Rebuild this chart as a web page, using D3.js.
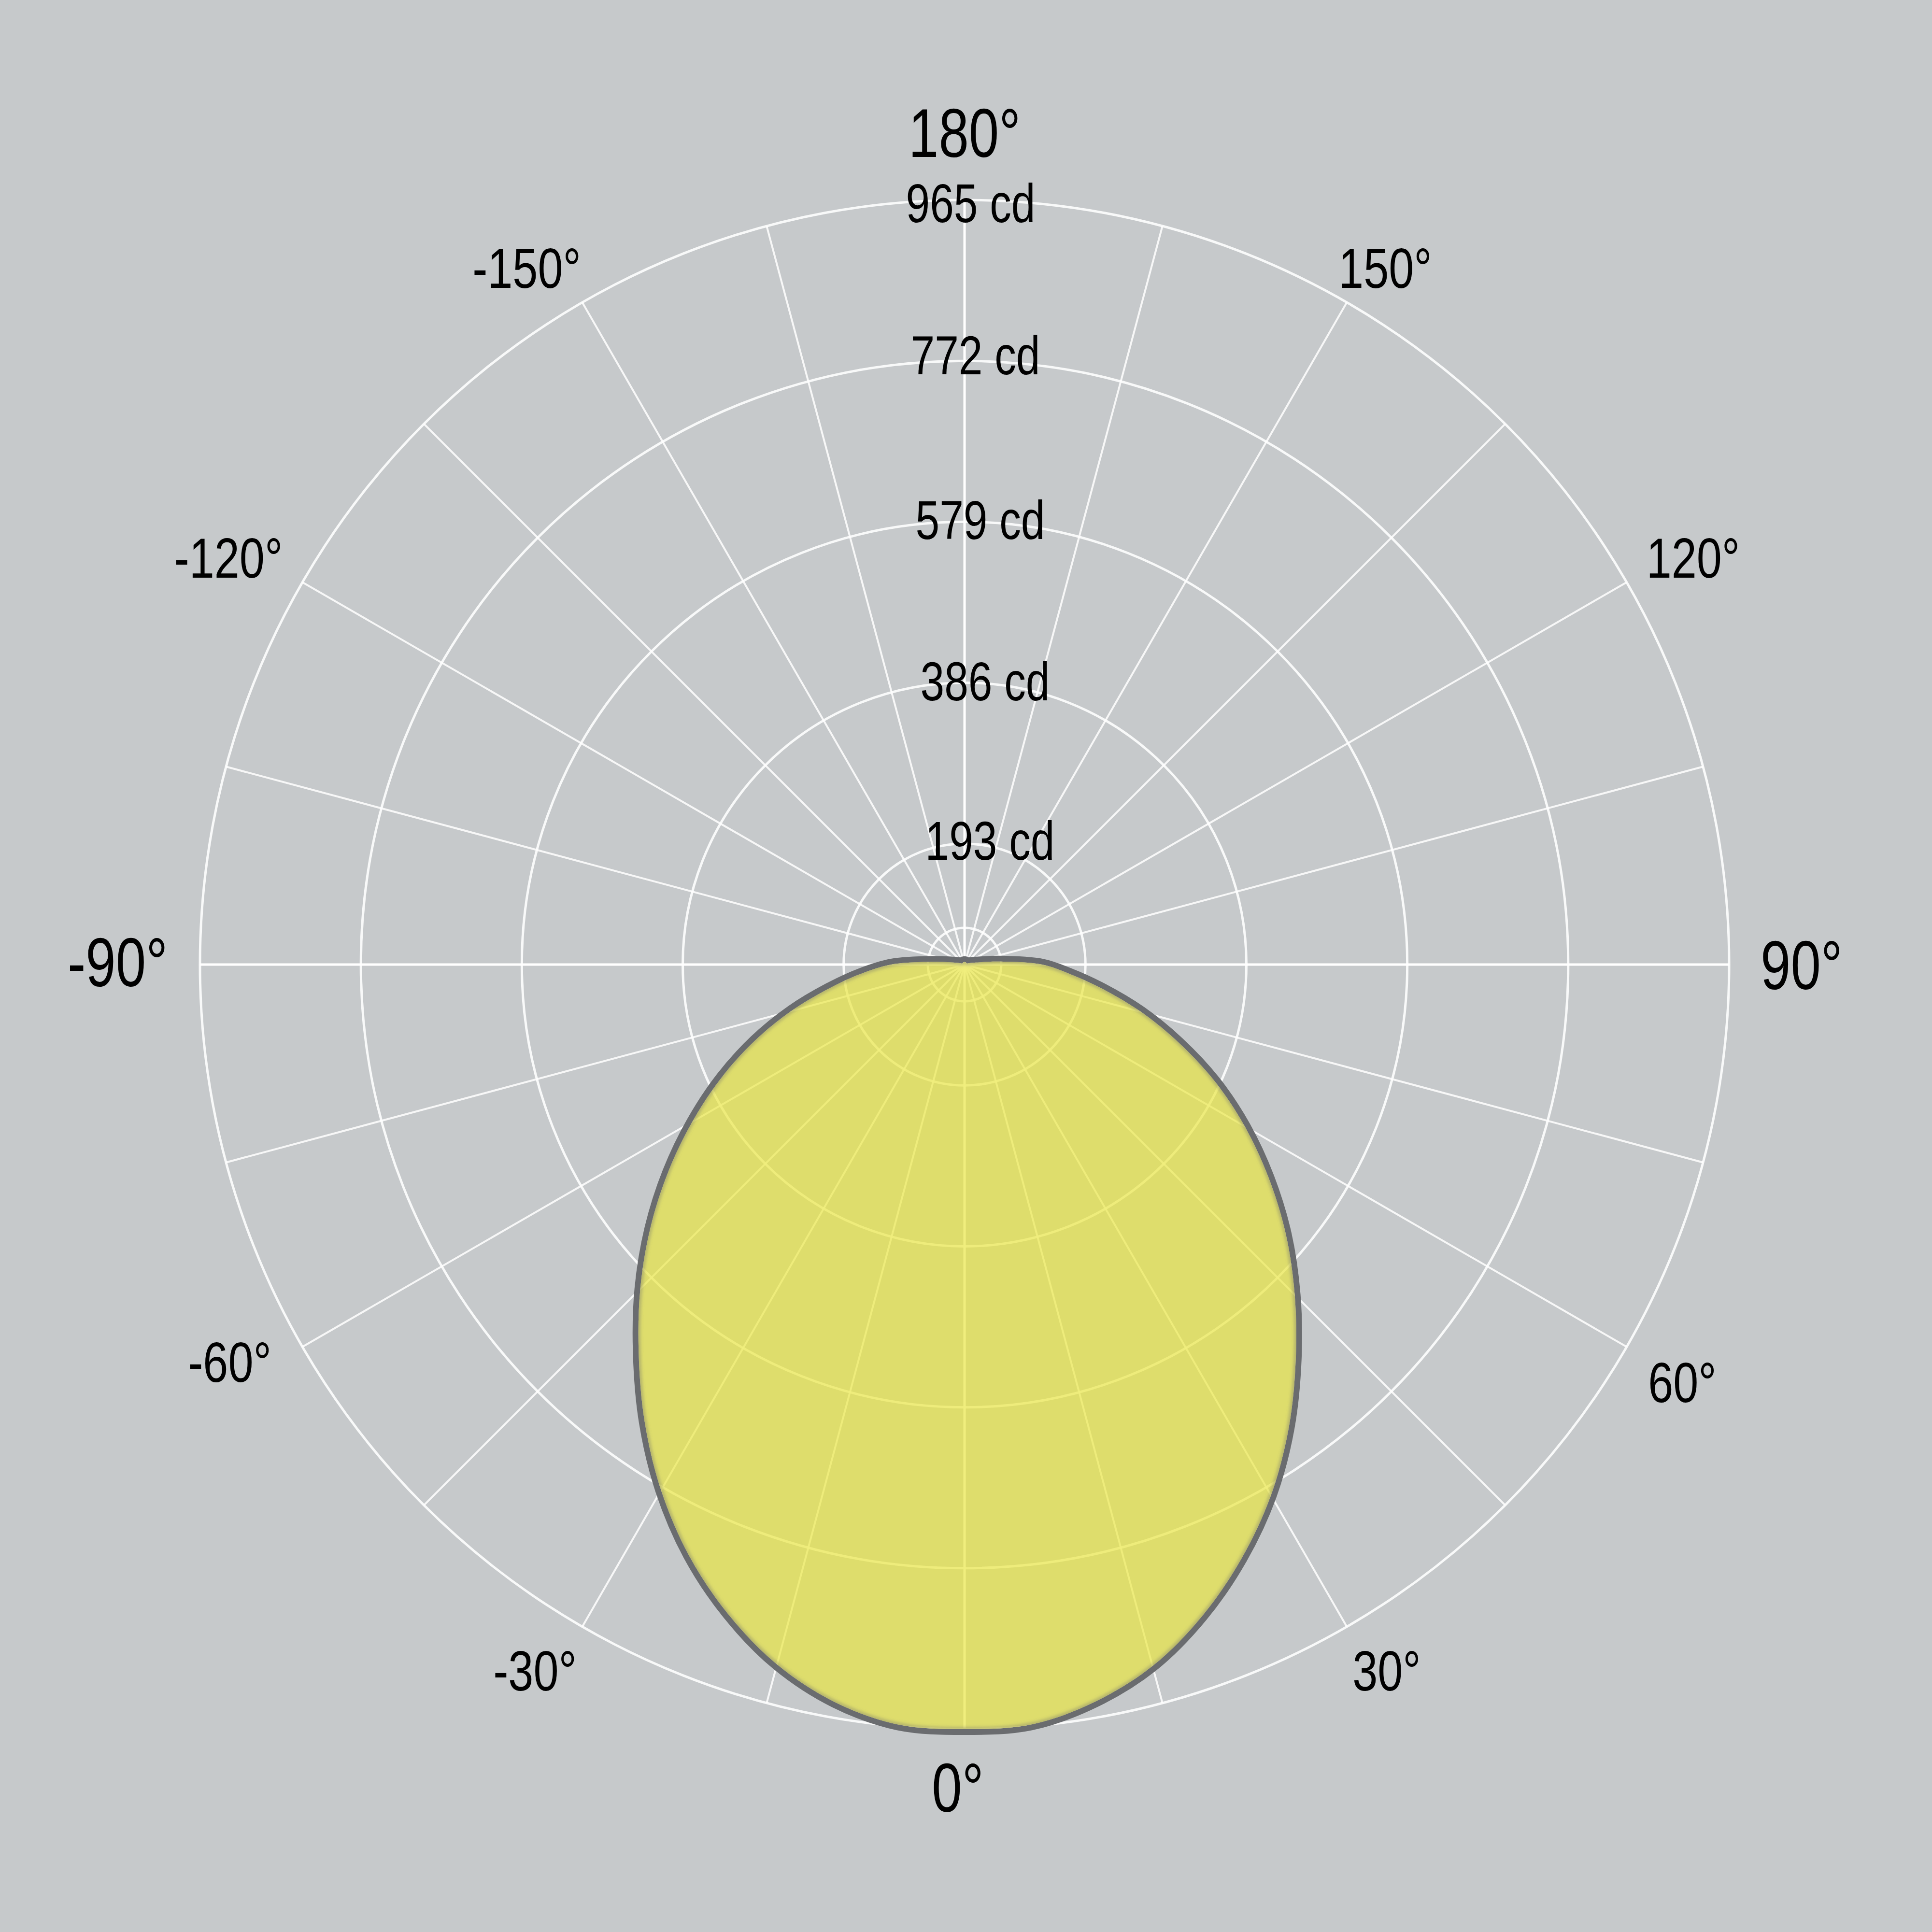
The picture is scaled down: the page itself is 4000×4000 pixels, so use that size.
<!DOCTYPE html>
<html><head><meta charset="utf-8">
<script src="https://cdn.jsdelivr.net/npm/d3@7"></script>
<style>html,body{margin:0;padding:0;background:#c6c9cb;}svg{display:block}</style>
</head><body>
<script>
// ---- data ----
const angles = [-180,-175,-170,-165,-160,-155,-150,-145,-140,-135,-130,-125,-120,-115,-110,-105,-100,-95,-90,-85,-80,-75,-70,-65,-60,-55,-50,-45,-40,-35,-30,-25,-20,-15,-10,-5,0,5,10,15,20,25,30,35,40,45,50,55,60,65,70,75,80,85,90,95,100,105,110,115,120,125,130,135,140,145,150,155,160,165,170,175];
const intensities = [51,51,51,51,51,51,51,51,51,51,51,51,51,51,52,55,62,86,136,172,213,263,316,370,425,482,540,598,656,717,776,830,877,917,946,963,968,963,946,919,880,834,783,726,666,608,551,493,436,379,321,267,216,174,141,89,62,55,52,51,51,51,51,51,51,51,51,51,51,51,51,51];
const ringValues = [193,386,579,772,965];
const ringLabels = ["193 cd","386 cd","579 cd","772 cd","965 cd"];
const innerRingValue = 92;
const spokeAngles = [-165,-150,-135,-120,-105,-90,-75,-60,-45,-30,-15,0,15,30,45,60,75,90,105,120,135,150,165,180];
const bigTicks = [0,90,180,-90];
const bigTickLabels = ["0°","90°","180°","-90°"];
const smallTicks = [30,60,120,150,-150,-120,-60,-30];
const smallTickLabels = ["30°","60°","120°","150°","-150°","-120°","-60°","-30°"];

// ---- layout ----
const W = 4000, H = 4000, cx = 1997, cy = 1997, R = 1583;
const FONT = "'Liberation Sans', Arial, Helvetica, sans-serif";
const NARROW = 0.79;
const ringLabelDy = [33, 36, 36, 28, 46];
const bigNudge = [[-14, 0], [0, 0], [0, 0], [0, -6]];
const smallNudge = [[16, 0], [0, 20], [0, 0], [0, 18], [-20, 18], [0, 0], [-20, -22], [-16, 0]];
const r = d3.scaleLinear().domain([48, 965]).range([0, R]).clamp(true);
const toA = d => (180 - d) * Math.PI / 180;   // chart degrees (0 = down, + = right) -> d3 radial angle

const svg = d3.select("body").append("svg").attr("width", W).attr("height", H);
svg.append("rect").attr("width", W).attr("height", H).attr("fill", "#c6c9cb");
const defs = svg.append("defs");
const g = svg.append("g").attr("transform", `translate(${cx},${cy})`);

// rings
g.selectAll("circle.ring").data(ringValues.concat([innerRingValue])).join("circle")
  .attr("class", "ring").attr("r", d => r(d))
  .attr("fill", "none").attr("stroke", "#ffffff").attr("stroke-width", 5).attr("stroke-opacity", 0.88);

// spokes
g.selectAll("line.spoke").data(spokeAngles).join("line")
  .attr("class", "spoke")
  .attr("x1", 0).attr("y1", 0)
  .attr("x2", d => r(965) * Math.sin(toA(d)))
  .attr("y2", d => -r(965) * Math.cos(toA(d)))
  .attr("stroke", "#ffffff")
  .attr("stroke-width", d => (d % 90 === 0) ? 5 : 4)
  .attr("stroke-opacity", d => (d % 90 === 0) ? 1 : 0.85);

// distribution curve
const pts = angles.map((a, i) => ({ a, v: intensities[i] }));
const radial = d3.lineRadial()
  .angle(d => toA(d.a))
  .radius(d => r(d.v))
  .curve(d3.curveCatmullRomClosed.alpha(0.5));
const dPath = radial(pts);

const mask = defs.append("mask").attr("id", "outside")
  .attr("maskUnits", "userSpaceOnUse").attr("x", -cx).attr("y", -cy).attr("width", W).attr("height", H);
mask.append("rect").attr("x", -cx).attr("y", -cy).attr("width", W).attr("height", H).attr("fill", "white");
mask.append("path").attr("d", dPath).attr("fill", "black");

const clip = defs.append("clipPath").attr("id", "inside");
clip.append("path").attr("d", dPath);
const blur = defs.append("filter").attr("id", "soft")
  .attr("x", "-10%").attr("y", "-10%").attr("width", "120%").attr("height", "120%");
blur.append("feGaussianBlur").attr("stdDeviation", 3);

// outward gray outline
g.append("path").attr("d", dPath)
  .attr("fill", "none").attr("stroke", "#6a6c6f").attr("stroke-width", 24)
  .attr("stroke-linejoin", "round").attr("mask", "url(#outside)");
// translucent yellow fill
g.append("path").attr("d", dPath)
  .attr("fill", "#e9e640").attr("fill-opacity", 0.68).attr("stroke", "none");
// soft inner edge
g.append("g").attr("clip-path", "url(#inside)")
  .append("path").attr("d", dPath)
  .attr("fill", "none").attr("stroke", "#7a7b6a").attr("stroke-width", 8)
  .attr("stroke-opacity", 0.45).attr("filter", "url(#soft)");

// ring labels
g.selectAll("text.rl").data(ringValues).join("text")
  .attr("class", "rl")
  .attr("transform", (d, i) => `translate(${60 - r(d) * 0.03},${-r(d) + ringLabelDy[i]}) scale(${NARROW},1)`)
  .attr("text-anchor", "middle")
  .attr("font-family", FONT).attr("font-size", 113).attr("fill", "#000")
  .text((d, i) => ringLabels[i]);

// angle labels: the unsigned part sits at a fixed distance outside the outer ring,
// a leading minus sign hangs outward (as in the reference)
function placeLabels(ticks, labels, fs, sx, R0, nudge, cls) {
  const sel = g.selectAll("text." + cls).data(ticks).join("text")
    .attr("class", cls)
    .attr("font-family", FONT).attr("font-size", fs).attr("fill", "#000")
    .text((d, i) => labels[i]);
  sel.each(function (d, i) {
    const txt = labels[i];
    const neg = txt.startsWith("-");
    const node = d3.select(this);
    let wu;
    if (neg) {
      node.text(txt.slice(1));
      wu = this.getComputedTextLength() * sx;
      node.text(txt);
    } else {
      wu = this.getComputedTextLength() * sx;
    }
    const h = 0.72 * fs;
    const a = toA(d);
    const ux = Math.sin(a), uy = -Math.cos(a);
    const R0i = Array.isArray(R0) ? R0[i] : R0;
    const x = ux * R0i + ux * wu / 2 + nudge[i][0];
    const y = uy * R0i + uy * h / 2 + h / 2 + nudge[i][1];
    if (neg) {
      node.attr("text-anchor", "end")
        .attr("transform", `translate(${x + wu / 2},${y}) scale(${sx},1)`);
    } else {
      node.attr("text-anchor", "middle")
        .attr("transform", `translate(${x},${y}) scale(${sx},1)`);
    }
  });
}
placeLabels(bigTicks, bigTickLabels, 142, 0.79, [1652, 1648, 1672, 1650], bigNudge, "big");
placeLabels(smallTicks, smallTickLabels, 117, 0.8, 1645, smallNudge, "small");
</script>
</body></html>
